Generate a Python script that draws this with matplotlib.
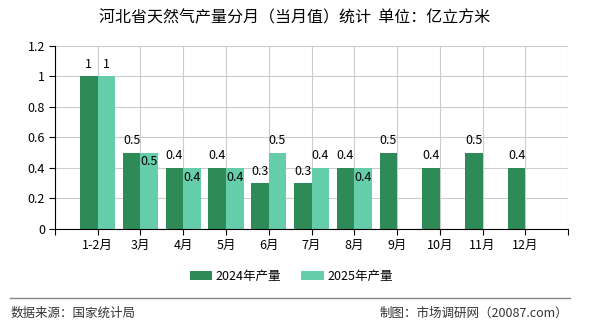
import matplotlib
matplotlib.use("Agg")
import matplotlib.pyplot as plt
import numpy as np

plt.rcParams['font.family'] = ['Noto Sans CJK SC', 'DejaVu Sans']

# 河北省天然气月度产量（亿立方米）
months = ["1-2月", "3月", "4月", "5月", "6月", "7月", "8月", "9月", "10月", "11月", "12月"]
output_2024 = [1, 0.5, 0.4, 0.4, 0.3, 0.3, 0.4, 0.5, 0.4, 0.5, 0.4]
output_2025 = [1, 0.5, 0.4, 0.4, 0.5, 0.4, 0.4]
y_ticks = [0, 0.2, 0.4, 0.6, 0.8, 1, 1.2]

c24 = "#2e8b57"
c25 = "#66cdaa"

fig = plt.figure(figsize=(5.9, 3.3), dpi=100)
ax = fig.add_axes([0.093, 0.306, 0.870, 0.555])

x = np.arange(len(months))
w = 0.41
b24 = ax.bar(x[:len(output_2024)] - w / 2, output_2024, w, color=c24, label="2024年产量", zorder=2)
b25 = ax.bar(x[:len(output_2025)] + w / 2, output_2025, w, color=c25, label="2025年产量", zorder=2)

for rect, v in zip(b24, output_2024):
    ax.annotate(f"{v:g}", (rect.get_x() + rect.get_width() / 2, v), xytext=(0, 4),
                textcoords="offset points", ha="center", va="bottom", fontsize=9)
for i, (rect, v) in enumerate(zip(b25, output_2025)):
    s = f"{v:g}"
    # same height as the 2024 bar: push the label inside so the two don't collide
    if v == output_2024[i] and len(s) > 1:
        off, va = (0, -2), "top"
    else:
        off, va = (0, 4), "bottom"
    ax.annotate(s, (rect.get_x() + rect.get_width() / 2, v), xytext=off,
                textcoords="offset points", ha="center", va=va, fontsize=9)

ax.set_xlim(-1, 11)
ax.set_ylim(0, 1.2)
ax.set_yticks(y_ticks)
ax.set_yticklabels([f"{t:g}" for t in y_ticks], fontsize=9)
ax.set_xticks(np.arange(-1, 12))
ax.set_xticklabels([""] + months + [""], fontsize=9)
ax.grid(True, color="#cccccc", linewidth=0.8, zorder=0)
ax.tick_params(axis="both", length=4, color="black", pad=3)
ax.spines["top"].set_visible(False)
ax.spines["right"].set_visible(False)

fig.text(0.5, 0.945, "河北省天然气产量分月（当月值）统计  单位：亿立方米",
         ha="center", va="center", fontsize=11.5)

fig.legend(handles=[b24, b25], loc="center", bbox_to_anchor=(0.494, 0.163), ncol=2,
           frameon=False, fontsize=9, handlelength=1.8, handleheight=0.8,
           handletextpad=0.3, columnspacing=1.6)

fig.add_artist(plt.Line2D([0.017, 0.966], [0.097, 0.097], color="#888888",
                          linewidth=1, transform=fig.transFigure))
fig.text(0.017, 0.052, "数据来源：国家统计局", ha="left", va="center", fontsize=9, color="#333333")
fig.text(0.963, 0.052, "制图：市场调研网（20087.com）", ha="right", va="center", fontsize=9, color="#333333")

fig.savefig("out.png", dpi=100)
plt.close(fig)
